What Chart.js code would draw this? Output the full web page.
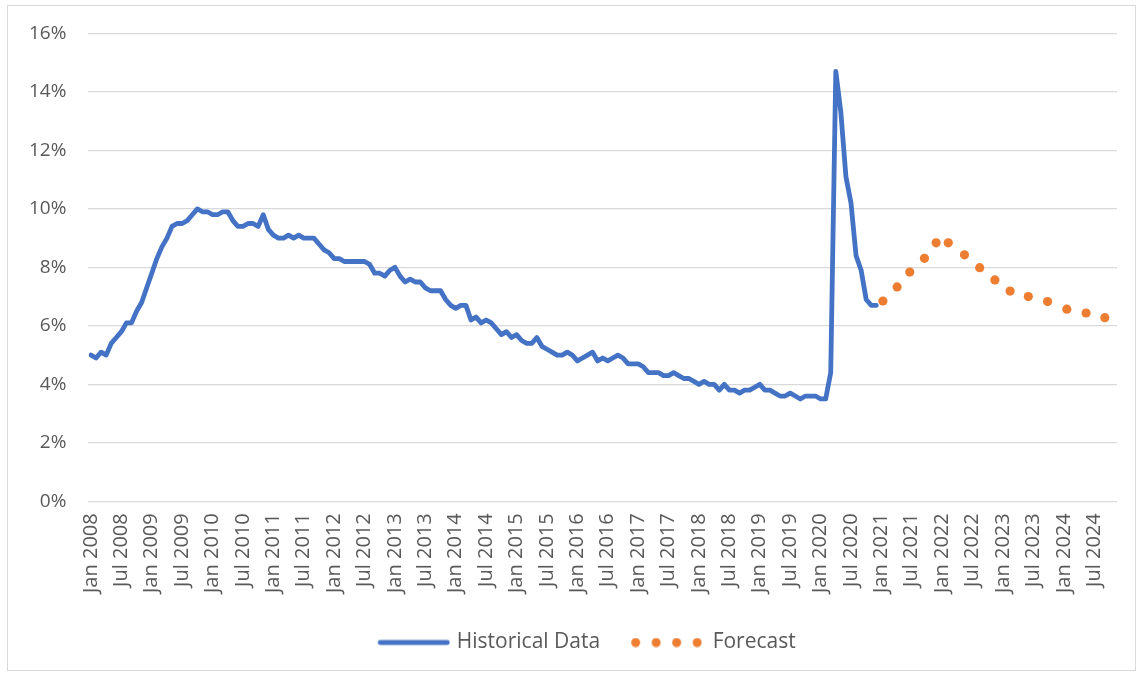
<!DOCTYPE html>
<html>
<head>
<meta charset="utf-8">
<script src="https://cdn.jsdelivr.net/npm/chart.js@4"></script>
<style>
  html, body { margin: 0; padding: 0; background: #ffffff; }
  #wrap { position: relative; width: 1140px; height: 675px; }
  #frame { position: absolute; left: 7px; top: 5px; width: 1129px; height: 666px; border: 1px solid #d9d9d9; box-sizing: border-box; pointer-events: none; }
</style>
</head>
<body>
<div id="wrap">
  <canvas id="c"></canvas>
  <div id="frame"></div>
</div>
<script>
// Monthly historical unemployment rate (%), Jan 2008 .. Dec 2020
const historical = [
  5.0, 4.9, 5.1, 5.0, 5.4, 5.6, 5.8, 6.1, 6.1, 6.5, 6.8, 7.3,
  7.8, 8.3, 8.7, 9.0, 9.4, 9.5, 9.5, 9.6, 9.8, 10.0, 9.9, 9.9,
  9.8, 9.8, 9.9, 9.9, 9.6, 9.4, 9.4, 9.5, 9.5, 9.4, 9.8, 9.3,
  9.1, 9.0, 9.0, 9.1, 9.0, 9.1, 9.0, 9.0, 9.0, 8.8, 8.6, 8.5,
  8.3, 8.3, 8.2, 8.2, 8.2, 8.2, 8.2, 8.1, 7.8, 7.8, 7.7, 7.9,
  8.0, 7.7, 7.5, 7.6, 7.5, 7.5, 7.3, 7.2, 7.2, 7.2, 6.9, 6.7,
  6.6, 6.7, 6.7, 6.2, 6.3, 6.1, 6.2, 6.1, 5.9, 5.7, 5.8, 5.6,
  5.7, 5.5, 5.4, 5.4, 5.6, 5.3, 5.2, 5.1, 5.0, 5.0, 5.1, 5.0,
  4.8, 4.9, 5.0, 5.1, 4.8, 4.9, 4.8, 4.9, 5.0, 4.9, 4.7, 4.7,
  4.7, 4.6, 4.4, 4.4, 4.4, 4.3, 4.3, 4.4, 4.3, 4.2, 4.2, 4.1,
  4.0, 4.1, 4.0, 4.0, 3.8, 4.0, 3.8, 3.8, 3.7, 3.8, 3.8, 3.9,
  4.0, 3.8, 3.8, 3.7, 3.6, 3.6, 3.7, 3.6, 3.5, 3.6, 3.6, 3.6,
  3.5, 3.5, 4.4, 14.7, 13.3, 11.1, 10.2, 8.4, 7.9, 6.9, 6.7, 6.7
];

// Forecast points: position in months since Jan 2008, and value (%)
const forecastMonths = [156.3, 159.1, 161.6, 164.5, 166.8, 169.2, 172.4, 175.4, 178.4, 181.4, 185.0, 188.8, 192.6, 196.4, 200.1];
const forecastValues = [6.85, 7.33, 7.84, 8.31, 8.84, 8.84, 8.43, 7.99, 7.57, 7.19, 7.0, 6.83, 6.57, 6.44, 6.28];

// X-axis tick labels, one every 6 months starting Jan 2008
const tickLabels = [
  'Jan 2008', 'Jul 2008', 'Jan 2009', 'Jul 2009', 'Jan 2010', 'Jul 2010',
  'Jan 2011', 'Jul 2011', 'Jan 2012', 'Jul 2012', 'Jan 2013', 'Jul 2013',
  'Jan 2014', 'Jul 2014', 'Jan 2015', 'Jul 2015', 'Jan 2016', 'Jul 2016',
  'Jan 2017', 'Jul 2017', 'Jan 2018', 'Jul 2018', 'Jan 2019', 'Jul 2019',
  'Jan 2020', 'Jul 2020', 'Jan 2021', 'Jul 2021', 'Jan 2022', 'Jul 2022',
  'Jan 2023', 'Jul 2023', 'Jan 2024', 'Jul 2024'
];
const yTicks = [0, 2, 4, 6, 8, 10, 12, 14, 16];

const seriesNames = ['Historical Data', 'Forecast'];
const BLUE = '#4472C4';
const ORANGE = '#ED7D31';
const FONT = "'Open Sans', 'Noto Sans', sans-serif";

// legend marker images (drawn centred on a 72px legend box)
function lineMarker() {
  const c = document.createElement('canvas');
  c.width = 80; c.height = 8;
  const g = c.getContext('2d');
  g.strokeStyle = BLUE; g.lineWidth = 4.8; g.lineCap = 'round';
  g.beginPath(); g.moveTo(9.9, 4); g.lineTo(77.1, 4); g.stroke();
  return c;
}
function dotsMarker() {
  const c = document.createElement('canvas');
  c.width = 72; c.height = 10;
  const g = c.getContext('2d');
  g.fillStyle = ORANGE;
  [5.5, 26, 46.5, 67].forEach(x => { g.beginPath(); g.arc(x, 5, 4.5, 0, Math.PI * 2); g.fill(); });
  return c;
}
const markers = [lineMarker(), dotsMarker()];

const histData = historical.map((v, i) => ({ x: i, y: v }));
const fcData = forecastMonths.map((m, i) => ({ x: m, y: forecastValues[i] }));

const legendShift = {
  id: 'legendShift',
  afterLayout(chart) {
    if (chart.legend) { chart.legend.left += 23; chart.legend.right += 23; }
  }
};

new Chart(document.getElementById('c'), {
  type: 'line',
  data: {
    datasets: [
      {
        label: seriesNames[0], data: histData,
        borderColor: BLUE, backgroundColor: BLUE, borderWidth: 4.8,
        pointRadius: 0, tension: 0, borderJoinStyle: 'round', borderCapStyle: 'round'
      },
      {
        label: seriesNames[1], data: fcData,
        showLine: false, borderColor: ORANGE, backgroundColor: ORANGE,
        pointRadius: 4.6, pointBorderWidth: 0, pointStyle: 'circle'
      }
    ]
  },
  plugins: [legendShift],
  options: {
    responsive: true, maintainAspectRatio: false, animation: false,
    layout: { padding: { top: 23, left: 7, right: 23, bottom: 12 } },
    plugins: {
      tooltip: { enabled: false },
      legend: {
        position: 'bottom',
        labels: {
          usePointStyle: true, pointStyleWidth: 72, padding: 30,
          color: '#595959', font: { family: FONT, size: 21 },
          generateLabels: (chart) => chart.data.datasets.map((ds, i) => ({
            text: ds.label, pointStyle: markers[i], fillStyle: 'transparent',
            strokeStyle: 'transparent', lineWidth: 0, datasetIndex: i, fontColor: '#595959'
          }))
        }
      }
    },
    scales: {
      x: {
        type: 'linear', min: -0.5, max: 202.5,
        afterBuildTicks: (s) => { s.ticks = tickLabels.map((_, i) => ({ value: i * 6 })); },
        afterFit: (s) => { s.height -= 3; },
        ticks: {
          autoSkip: false, minRotation: 90, maxRotation: 90, padding: 12,
          color: '#595959', font: { family: FONT, size: 20 },
          callback: (v, i) => tickLabels[i]
        },
        grid: { display: false, drawTicks: false },
        border: { display: false }
      },
      y: {
        min: 0, max: 16,
        afterBuildTicks: (s) => { s.ticks = yTicks.map(v => ({ value: v })); },
        ticks: {
          padding: 22, color: '#595959', font: { family: FONT, size: 19 },
          callback: (v) => v + '%'
        },
        grid: { color: '#d9d9d9', lineWidth: 1.3, drawTicks: false },
        border: { display: false }
      }
    }
  }
});
</script>
</body>
</html>
